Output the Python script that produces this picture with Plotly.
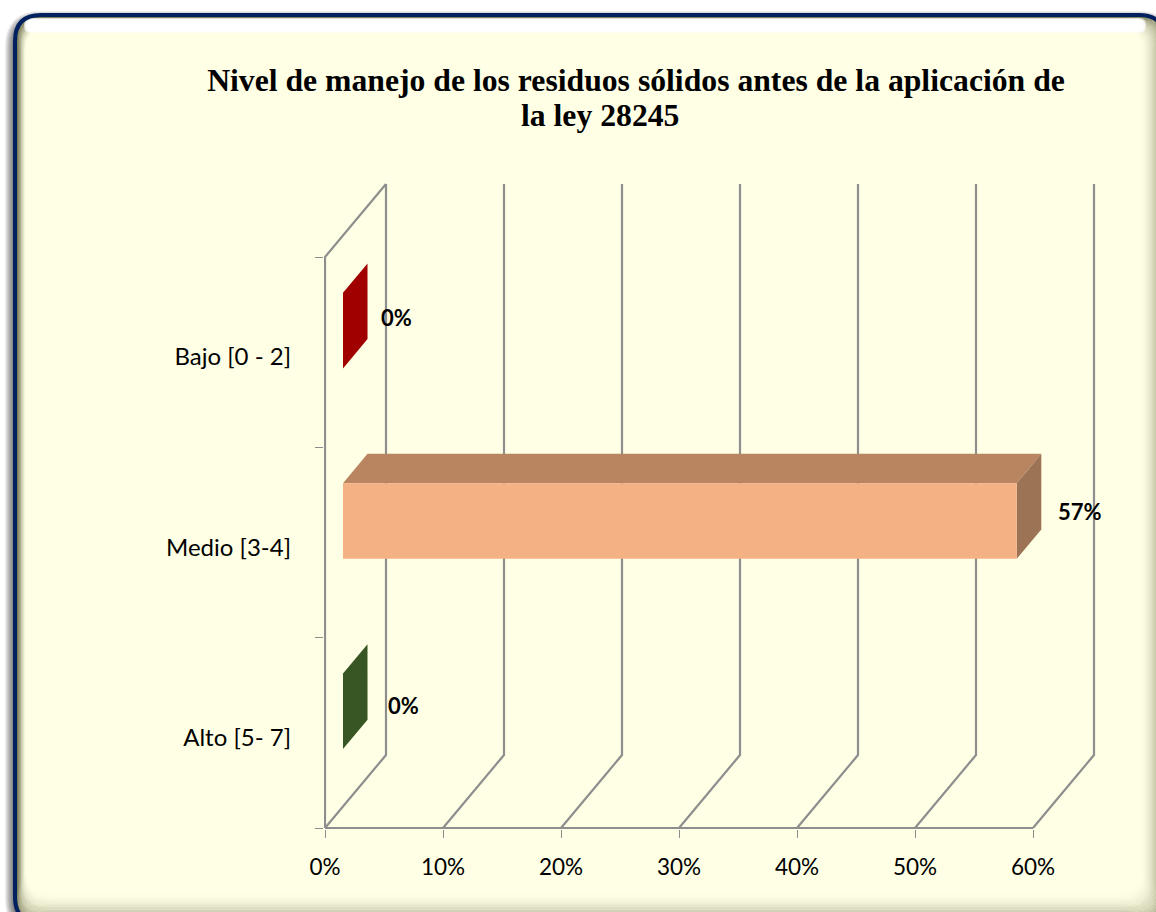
import plotly.graph_objects as go

CATEGORIES = ["Alto [5- 7]", "Medio [3-4]", "Bajo [0 - 2]"]
VALUES = [0, 57.1, 0]
FRONT_COLORS = ["#375623", "#F4B183", "#A00000"]
TOP_COLORS = ["#375623", "#B98561", "#A00000"]
SIDE_COLORS = ["#375623", "#9C7355", "#A00000"]
X_TICKS = [0, 10, 20, 30, 40, 50, 60]
X_TICK_LABELS = ["0%", "10%", "20%", "30%", "40%", "50%", "60%"]
TITLE_LINE_1 = "Nivel de manejo de los residuos sólidos antes de la aplicación de"
TITLE_LINE_2 = "la ley 28245"

W, H = 1156, 912
# one pixel of slack left and below so the wall and floor lines are not cut in half
PAD = 1
PLOT_L, PLOT_R, PLOT_T, PLOT_B = 325 - PAD, 1097, 182, 828 + PAD
PX_PER_PCT = 11.8
PX_PER_CAT = 190.33
GRID = "#8E8E8E"
TEXT_FONT = "Lato"

# the fake 3D: how far the back wall sits from the front plane, in axis units
DEPTH_X = 61 / PX_PER_PCT
DEPTH_Y = 73 / PX_PER_CAT
BAR_FRONT = 0.295
BAR_BACK = 0.697
BAR_THICK = 0.397


def px_x(px):
    return (px - PLOT_L) / (PLOT_R - PLOT_L)


def px_y(py):
    return (PLOT_B - py) / (PLOT_B - PLOT_T)


def rounded(x0, y0, x1, y1, r):
    a, b, c, d = px_x(x0), px_x(x1), px_y(y0), px_y(y1)
    rx = r / (PLOT_R - PLOT_L)
    ry = r / (PLOT_B - PLOT_T)
    return (
        f"M{a + rx},{c} L{b - rx},{c} Q{b},{c} {b},{c - ry} "
        f"L{b},{d + ry} Q{b},{d} {b - rx},{d} "
        f"L{a + rx},{d} Q{a},{d} {a},{d + ry} "
        f"L{a},{c - ry} Q{a},{c} {a + rx},{c} Z"
    )


def panel_shapes():
    shapes = []
    # soft shadow to the left of the frame
    for w in range(18, 0, -2):
        shapes.append(dict(type="path", path=rounded(14, 20, 1165, 926, 26), xref="paper", yref="paper",
                           line=dict(color="rgba(0,0,0,0.07)", width=w), layer="below"))
    shapes.append(dict(type="path", path=rounded(15, 15, 1165, 923, 26), xref="paper", yref="paper",
                       fillcolor="#FFFFE5", line=dict(width=0), layer="below"))
    # inner glow, wider at the bottom and on the right
    steps = 26
    for i in range(steps):
        f = i / 2
        shapes.append(dict(type="path",
                           path=rounded(15 + f * 0.9, 15 + f, 1165 - f * 2.0, 923 - f * 2.4, 26),
                           xref="paper", yref="paper",
                           line=dict(color=f"rgba(60,60,25,{0.36 * (1 - i / steps) ** 2:.3f})", width=2),
                           layer="below"))
    # white strip under the top edge
    for i in range(4):
        shapes.append(dict(type="path", path=rounded(24 + i, 18 + i / 2, 1146 - i, 33 - i / 2, 7),
                           xref="paper", yref="paper", fillcolor="rgba(255,255,255,0.62)",
                           line=dict(width=0), layer="below"))
    shapes.append(dict(type="path", path=rounded(15, 15, 1165, 923, 26), xref="paper", yref="paper",
                       line=dict(color="#002060", width=4), layer="below"))
    return shapes


def poly(xs, ys, color):
    return go.Scatter(x=xs, y=ys, mode="lines", fill="toself", fillcolor=color,
                      line=dict(width=0), hoverinfo="skip")


def grid_line(xs, ys):
    return go.Scatter(x=xs, y=ys, mode="lines", line=dict(color=GRID, width=2.2), hoverinfo="skip")


fig = go.Figure()
n = len(CATEGORIES)

# floor, wall and gridlines
for t in X_TICKS:
    fig.add_trace(grid_line([t, t + DEPTH_X, t + DEPTH_X], [0, DEPTH_Y, n + DEPTH_Y]))
fig.add_trace(grid_line([X_TICKS[0], X_TICKS[-1]], [0, 0]))
fig.add_trace(grid_line([0, 0, DEPTH_X], [0, n, n + DEPTH_Y]))

# bars: three faces per bar, all from the value. Polygons, because a bar trace
# would sit underneath the gridlines
for i, v in enumerate(VALUES):
    x0 = BAR_FRONT * DEPTH_X
    x1 = x0 + v
    y_mid = i + 0.5 + BAR_FRONT * DEPTH_Y
    y_top = y_mid + BAR_THICK / 2
    y_bot = y_mid - BAR_THICK / 2
    dx = (BAR_BACK - BAR_FRONT) * DEPTH_X
    dy = (BAR_BACK - BAR_FRONT) * DEPTH_Y
    fig.add_trace(poly([x0, x0 + dx, x1 + dx, x1, x0], [y_top, y_top + dy, y_top + dy, y_top, y_top], TOP_COLORS[i]))
    fig.add_trace(poly([x1, x1 + dx, x1 + dx, x1, x1], [y_bot, y_bot + dy, y_top + dy, y_top, y_bot], SIDE_COLORS[i]))
    fig.add_trace(poly([x0, x1, x1, x0, x0], [y_bot, y_bot, y_top, y_top, y_bot], FRONT_COLORS[i]))

# data labels were dragged by hand in the original, hence the shifts
label_shift = [(78, 27), (81.5, 31), (71, 35)]
annotations = []
for i, v in enumerate(VALUES):
    annotations.append(dict(x=v, y=i + 0.5, text=f"<b>{round(v)}%</b>", showarrow=False,
                            xshift=label_shift[i][0], yshift=label_shift[i][1],
                            font=dict(family=TEXT_FONT, size=22, color="black")))
annotations.append(dict(x=px_x(600), y=px_y(116), xref="paper", yref="paper", text=f"<b>{TITLE_LINE_2}</b>",
                        xanchor="center", yanchor="middle", showarrow=False,
                        font=dict(family="Liberation Serif", size=31.7, color="black")))

fig.update_xaxes(
    range=[-PAD / PX_PER_PCT, (PLOT_R - 325) / PX_PER_PCT],
    tickmode="array", tickvals=X_TICKS, ticktext=X_TICK_LABELS,
    ticks="outside", ticklen=8, tickwidth=1, tickcolor=GRID,
    showgrid=False, zeroline=False, showline=False, fixedrange=True,
    ticklabelstandoff=10,
    tickfont=dict(family=TEXT_FONT, size=22.5, color="black"),
)
fig.update_yaxes(
    range=[-PAD / PX_PER_CAT, (828 - PLOT_T) / PX_PER_CAT],
    tickmode="array", tickvals=[i + 0.475 for i in range(n)], ticktext=CATEGORIES,
    ticks="", showgrid=False, zeroline=False, showline=False, fixedrange=True,
    ticklabelstandoff=32,
    minor=dict(tickmode="array", tickvals=list(range(n + 1)), ticks="outside", ticklen=8,
               tickwidth=1, tickcolor=GRID, showgrid=False),
    tickfont=dict(family=TEXT_FONT, size=24, color="black"),
)
fig.update_layout(
    width=W,
    height=H,
    autosize=False,
    margin=dict(l=PLOT_L, r=W - PLOT_R, t=PLOT_T, b=H - PLOT_B, pad=0),
    paper_bgcolor="white",
    plot_bgcolor="rgba(0,0,0,0)",
    showlegend=False,
    hovermode=False,
    title=dict(text=f"<b>{TITLE_LINE_1}</b>", x=636 / W, xanchor="center", y=1 - 80 / H, yanchor="middle",
               font=dict(family="Liberation Serif", size=31.7, color="black")),
    annotations=annotations,
    shapes=panel_shapes(),
)

fig.write_html("out.html", config=dict(displayModeBar=False),
               post_script="document.body.style.margin='0';document.body.style.overflow='hidden';")
